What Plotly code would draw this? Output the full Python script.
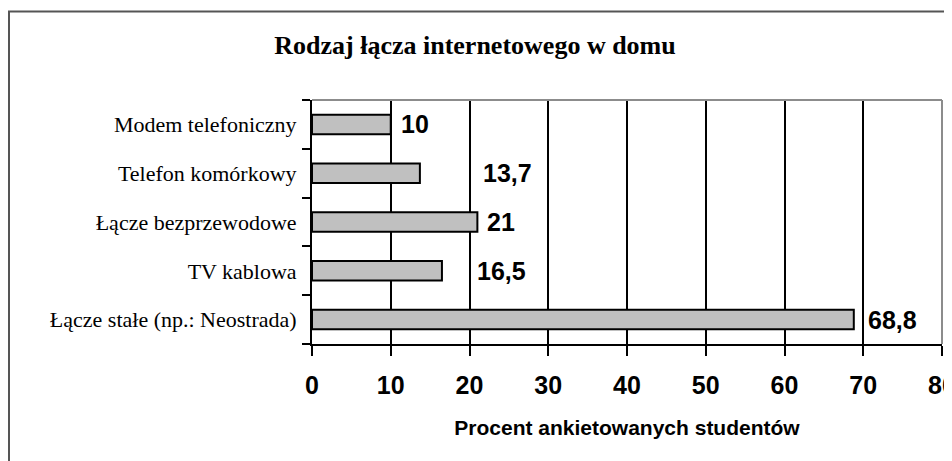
import plotly.graph_objects as go

categories = ["Łącze stałe (np.: Neostrada)", "TV kablowa", "Łącze bezprzewodowe",
              "Telefon komórkowy", "Modem telefoniczny"]
values = [68.8, 16.5, 21, 13.7, 10]
value_labels = ["68,8", "16,5", "21", "13,7", "10"]
label_shifts = [12, 33, 8, 61, 8]
x_ticks = [0, 10, 20, 30, 40, 50, 60, 70, 80]

W, H = 944, 453
L, R, T, B = 304, 10, 92, 117
PW, PH = W - L - R, H - T - B

fig = go.Figure()
fig.add_trace(go.Bar(
    y=categories, x=values, orientation="h", width=0.4,
    marker=dict(color="#c0c0c0", line=dict(color="black", width=2)),
    hoverinfo="x+y",
))

for c, v, t, s in zip(categories, values, value_labels, label_shifts):
    fig.add_annotation(x=v, y=c, text=f"<b>{t}</b>", showarrow=False,
                       xanchor="left", yanchor="middle", xshift=s,
                       font=dict(family="Liberation Sans, Arial", size=25, color="black"))

# plot area top/right border (gray) and outer frame
fig.add_shape(type="line", xref="paper", yref="paper", x0=0, x1=1, y0=1, y1=1,
              line=dict(color="#8c8c8c", width=2), layer="above")
fig.add_shape(type="line", xref="paper", yref="paper", x0=1, x1=1, y0=0, y1=1,
              line=dict(color="#8c8c8c", width=2), layer="above")
fig.add_shape(type="rect", xref="paper", yref="paper",
              x0=(1 - L) / PW, x1=1.05, y0=-0.6, y1=1 + (T - 3.5) / PH,
              line=dict(color="#555555", width=2), layer="above")

fig.update_layout(
    width=W, height=H,
    margin=dict(l=L, r=R, t=T, b=B),
    paper_bgcolor="white", plot_bgcolor="white",
    showlegend=False,
    title=dict(text="<b>Rodzaj łącza internetowego w domu</b>", xref="container",
               x=467 / W, xanchor="center", y=1 - 37 / H, yanchor="middle",
               font=dict(family="Liberation Serif, Times New Roman", size=26, color="black")),
    xaxis=dict(range=[0, 80], tickvals=x_ticks, ticktext=[f"<b>{v}</b>" for v in x_ticks],
               showgrid=True, gridcolor="black", gridwidth=2,
               showline=True, linecolor="black", linewidth=2,
               ticks="outside", ticklen=10, tickwidth=2, tickcolor="black",
               zeroline=False, ticklabelstandoff=8, ticklabeloverflow="allow",
               automargin=False,
               tickfont=dict(family="Liberation Sans, Arial", size=25, color="black"),
               title=dict(text="<b>Procent ankietowanych studentów</b>", standoff=22,
                          font=dict(family="Liberation Sans, Arial", size=21, color="black"))),
    yaxis=dict(showline=True, linecolor="black", linewidth=2,
               ticks="outside", tickson="boundaries", ticklen=8, tickwidth=2, tickcolor="black",
               showgrid=False, zeroline=False, ticklabelstandoff=9, automargin=False,
               tickfont=dict(family="Liberation Serif, Times New Roman", size=22, color="black")),
)

fig.write_html("out.html")
